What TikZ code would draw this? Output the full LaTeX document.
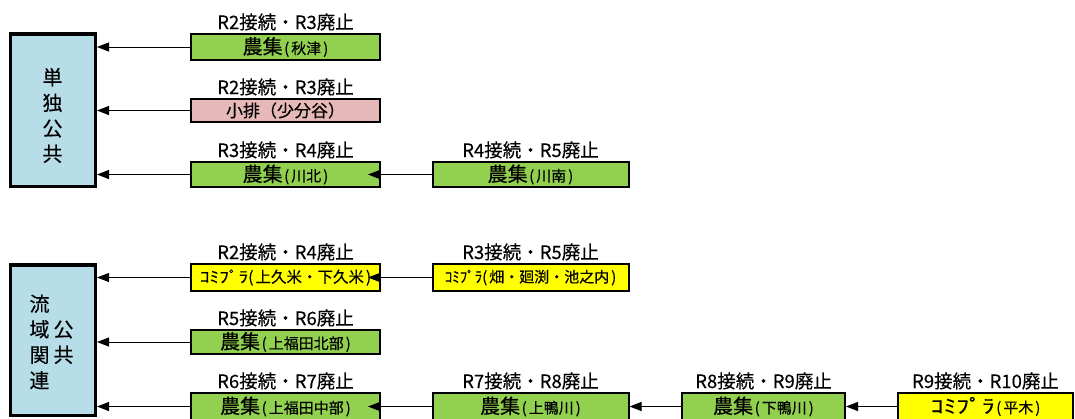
\documentclass[tikz,border=0pt]{standalone}
\usepackage{fontspec}
\setmainfont{Noto Sans CJK JP}[FakeBold=0.3]
\usetikzlibrary{arrows.meta}
\definecolor{grn}{HTML}{92D050}
\definecolor{pnk}{HTML}{E6B9B8}
\definecolor{ylw}{HTML}{FFFF00}
\definecolor{lbl}{HTML}{B7DEE8}
\newcommand\Lg[1]{{\fontsize{20}{20}\selectfont #1}}
\newcommand\Paren[1]{(\hspace{2pt}#1\hspace{2pt})}
\newcommand\Sm[1]{\hspace{1.5pt}{\fontsize{15}{15}\selectfont \Paren{#1}}}
\tikzset{
  bigbox/.style={draw, line width=3.5pt, fill=lbl, inner sep=0pt, minimum width=85pt},
  cell/.style={draw, line width=2pt, inner sep=0pt, align=center},
  colA/.style={cell, minimum width=189pt},
  colB/.style={cell, minimum width=196pt},
  colC/.style={cell, minimum width=163pt},
  colD/.style={cell, minimum width=175pt},
  lab/.style={anchor=base, inner sep=0pt, font=\fontsize{18.5}{18.5}\selectfont},
  vtext/.style={inner sep=0pt, align=center, font=\fontsize{20}{25.5}\selectfont},
  arr/.style={line width=1pt, -{Triangle[length=12pt,width=9pt]}},
}
\begin{document}
\begin{tikzpicture}[x=1pt,y=-1pt]
\useasboundingbox (0,0) rectangle (1075,418);
% left big boxes
\node[bigbox, minimum height=152.5pt] (tan) at (52.75,110) {};
\node[vtext] (tantxt) at (52.5,115.5) {単\\独\\公\\共};
\node[bigbox, minimum height=150.5pt] (ryu) at (52.75,340.25) {};
\node[vtext] (ryutxt) at (51.5,344.5) {\begin{tabular}{@{}c@{\hspace{4pt}}c@{}}流&\\域&公\\関&共\\連&\end{tabular}};
% row 1
\node[colA, fill=grn, minimum height=26pt] (c11) at (285.5,47) {\Lg{農集}\Sm{秋津}};
% row 2
\node[colA, fill=pnk, minimum height=23pt] (c21) at (285.5,110.5) {{\fontsize{17}{17}\selectfont 小排（少分谷）}};
% row 3
\node[colA, fill=grn, minimum height=25pt] (c31) at (285.5,174.5) {\Lg{農集}\Sm{川北}};
\node[colB, fill=grn, minimum height=25pt] (c32) at (530.5,174.5) {\Lg{農集}\Sm{川南}};
% row 4
\node[colA, fill=ylw, minimum height=27pt] (c41) at (285.5,277.5) {{\fontsize{15.5}{15.5}\selectfont \scalebox{1.25}[1]{ｺﾐﾌﾟﾗ}\Paren{上久米・下久米}}};
\node[colB, fill=ylw, minimum height=27pt] (c42) at (530.5,277.5) {{\fontsize{15}{15}\selectfont ｺﾐﾌﾟﾗ\Paren{畑・廻渕・池之内}}};
% row 5
\node[colA, fill=grn, minimum height=24pt] (c51) at (285.5,342) {\Lg{農集}\Sm{上福田北部}};
% row 6
\node[colA, fill=grn, minimum height=27pt] (c61) at (285.5,406.5) {\Lg{農集}\Sm{上福田中部}};
\node[colB, fill=grn, minimum height=27pt] (c62) at (530.5,406.5) {\Lg{農集}\Sm{上鴨川}};
\node[colC, fill=grn, minimum height=27pt] (c63) at (763.5,406.5) {\Lg{農集}\Sm{下鴨川}};
\node[colD, fill=ylw, minimum height=27pt] (c64) at (985.5,406.5) {{\fontsize{19}{19}\selectfont\scalebox{1.35}[1]{ｺﾐﾌﾟﾗ}}\Sm{平木}};
% labels
\node[lab] (l11) at ([yshift=4pt]c11.north) {R2接続・R3廃止};
\node[lab] (l21) at ([yshift=4pt]c21.north) {R2接続・R3廃止};
\node[lab] (l31) at ([yshift=4pt]c31.north) {R3接続・R4廃止};
\node[lab] (l32) at ([yshift=4pt]c32.north) {R4接続・R5廃止};
\node[lab] (l41) at ([yshift=4pt]c41.north) {R2接続・R4廃止};
\node[lab] (l42) at ([yshift=4pt]c42.north) {R3接続・R5廃止};
\node[lab] (l51) at ([yshift=4pt]c51.north) {R5接続・R6廃止};
\node[lab] (l61) at ([yshift=4pt]c61.north) {R6接続・R7廃止};
\node[lab] (l62) at ([yshift=4pt]c62.north) {R7接続・R8廃止};
\node[lab] (l63) at ([yshift=4pt]c63.north) {R8接続・R9廃止};
\node[lab] (l64) at ([yshift=4pt]c64.north) {R9接続・R10廃止};
% arrows to big boxes
\draw[arr] (c11.west) -- (c11.west -| tan.east);
\draw[arr] (c21.west) -- (c21.west -| tan.east);
\draw[arr] (c31.west) -- (c31.west -| tan.east);
\draw[arr] (c41.west) -- (c41.west -| ryu.east);
\draw[arr] (c51.west) -- (c51.west -| ryu.east);
\draw[arr] (c61.west) -- (c61.west -| ryu.east);
% chain arrows
\draw[arr, shorten >=-13pt] (c32.west) -- (c31.east);
\draw[arr, shorten >=-13pt] (c42.west) -- (c41.east);
\draw[arr, shorten >=-13pt] (c62.west) -- (c61.east);
\draw[arr] (c63.west) -- (c62.east);
\draw[arr] (c64.west) -- (c63.east);
\end{tikzpicture}
\end{document}
